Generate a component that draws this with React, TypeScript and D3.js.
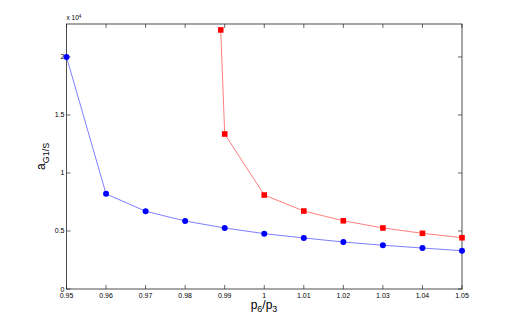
import React from "react";
import * as d3 from "d3";

const blueX = [0.95, 0.96, 0.97, 0.98, 0.99, 1.0, 1.01, 1.02, 1.03, 1.04, 1.05];
const blueY = [2.0, 0.82, 0.67, 0.586, 0.526, 0.477, 0.44, 0.405, 0.377, 0.353, 0.33];
const redX = [0.989, 0.99, 1.0, 1.01, 1.02, 1.03, 1.04, 1.05];
const redY = [2.233, 1.336, 0.81, 0.672, 0.588, 0.526, 0.48, 0.442];
const xTicks = [0.95, 0.96, 0.97, 0.98, 0.99, 1.0, 1.01, 1.02, 1.03, 1.04, 1.05];
const xTickLabels = ["0.95", "0.96", "0.97", "0.98", "0.99", "1", "1.01", "1.02", "1.03", "1.04", "1.05"];
const yTicks = [0, 0.5, 1, 1.5, 2];
const yTickLabels = ["0", "0.5", "1", "1.5", "2"];

export default function App() {
  const W = 511, H = 326;
  const L = 66.5, R = 462, T = 24, B = 289;
  const x = d3.scaleLinear().domain([0.95, 1.05]).range([L, R]);
  const y = d3.scaleLinear().domain([0, 2.284]).range([B, T]);
  const line = d3.line<[number, number]>().x(d => x(d[0])).y(d => y(d[1]));
  const blue = blueX.map((v, i) => [v, blueY[i]] as [number, number]);
  const red = redX.map((v, i) => [v, redY[i]] as [number, number]);
  const font = "Helvetica, Arial, 'Liberation Sans', sans-serif";
  const tl = 4;
  return (
    <svg width={W} height={H} style={{ position: "absolute", left: 0, top: 0, background: "#fff" }} fontFamily={font}>
      <rect x={0} y={0} width={W} height={H} fill="#fff" />
      {xTicks.map((t, i) => (
        <g key={"xt" + i}>
          <line x1={x(t)} x2={x(t)} y1={B} y2={B - tl} stroke="#000" strokeWidth={0.6} />
          <line x1={x(t)} x2={x(t)} y1={T} y2={T + tl} stroke="#000" strokeWidth={0.6} />
          <text x={x(t)} y={B + 8.5} fontSize={7} textAnchor="middle" fill="#000">{xTickLabels[i]}</text>
        </g>
      ))}
      {yTicks.map((t, i) => (
        <g key={"yt" + i}>
          <line x1={L} x2={L + tl} y1={y(t)} y2={y(t)} stroke="#000" strokeWidth={0.6} />
          <line x1={R} x2={R - tl} y1={y(t)} y2={y(t)} stroke="#000" strokeWidth={0.6} />
          <text x={L - 2} y={y(t) + 2.5} fontSize={7} textAnchor="end" fill="#000">{yTickLabels[i]}</text>
        </g>
      ))}
      <rect x={L} y={T} width={R - L} height={B - T} fill="none" stroke="#222" strokeWidth={0.8} />
      <text x={L} y={T - 4} fontSize={6.5} fill="#000">x 10<tspan dy={-2.5} fontSize={4.5}>4</tspan></text>
      <path d={line(blue) || ""} fill="none" stroke="#6f6fff" strokeWidth={0.9} />
      <path d={line(red) || ""} fill="none" stroke="#ff7070" strokeWidth={0.9} />
      {blue.map((d, i) => (
        <circle key={"b" + i} cx={x(d[0])} cy={y(d[1])} r={3} fill="#0000ff" />
      ))}
      {red.map((d, i) => (
        <rect key={"r" + i} x={x(d[0]) - 2.8} y={y(d[1]) - 2.8} width={5.6} height={5.6} fill="#ff0000" />
      ))}
      <text x={264} y={308.5} fontSize={12} textAnchor="middle" fill="#000">
        p<tspan fontSize={9} dy={3}>6</tspan><tspan dy={-3}>/p</tspan><tspan fontSize={9} dy={3}>3</tspan>
      </text>
      <text transform="translate(45,170) rotate(-90)" fontSize={12} fill="#000">
        a<tspan fontSize={9} dy={4}>G1/S</tspan>
      </text>
    </svg>
  );
}
